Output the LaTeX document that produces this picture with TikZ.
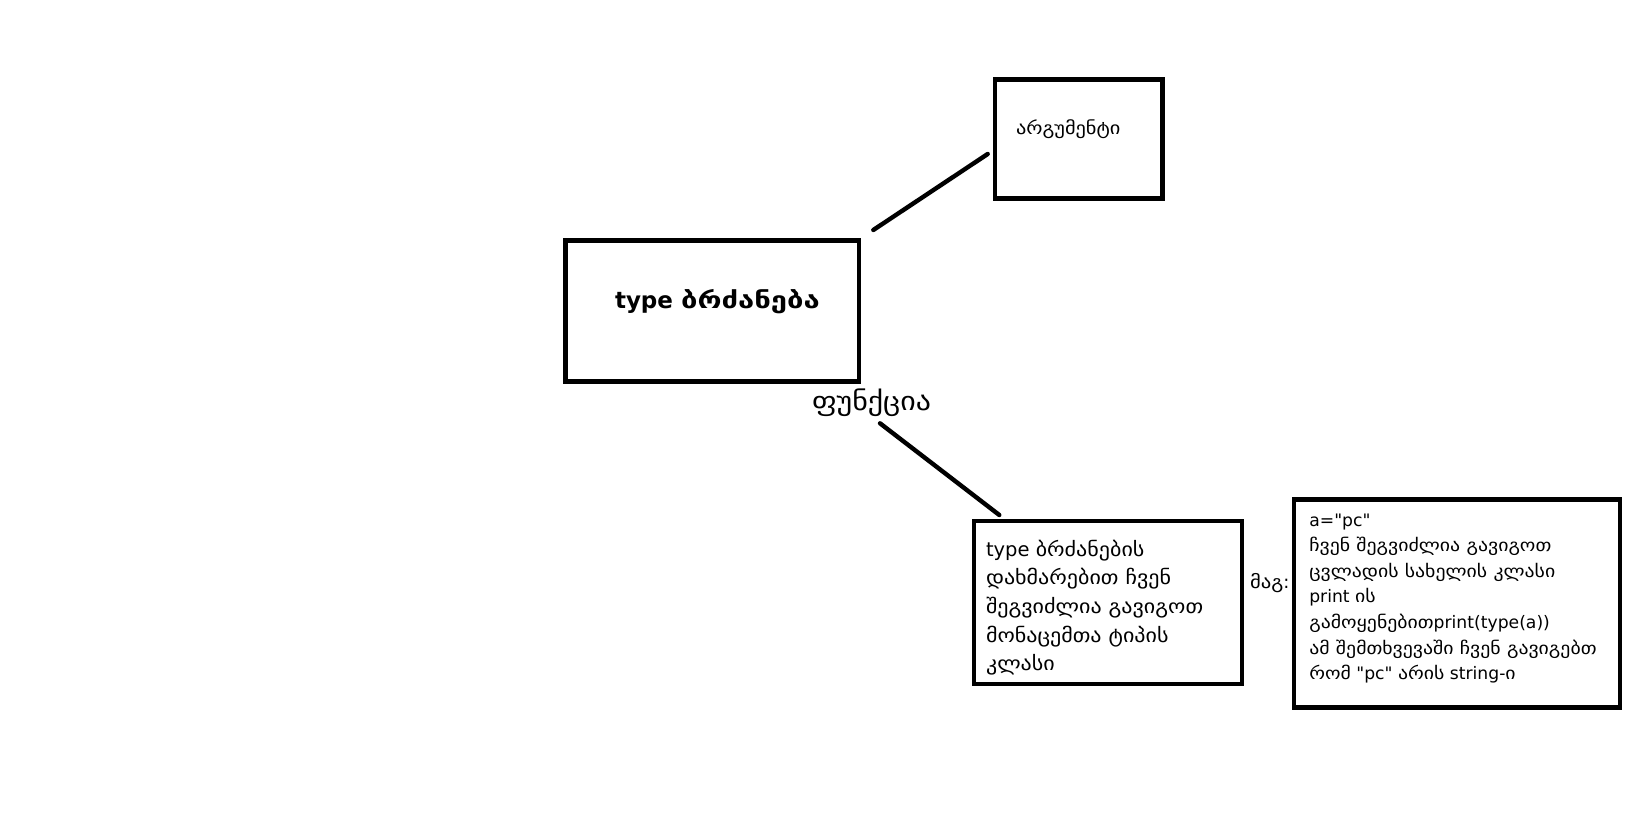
\documentclass[tikz,border=0pt]{standalone}
\usepackage{fontspec}
\setmainfont{DejaVu Sans}
\newfontfamily\lat{DejaVu Sans}
\newfontfamily\geo{DejaVu Sans}[FakeStretch=1.15]
\newfontfamily\geoi{DejaVu Sans}[FakeStretch=1.13]
\newfontfamily\geot{DejaVu Sans}[FakeStretch=1.27]
\begin{document}
\begin{tikzpicture}[x=1pt,y=-1pt,
  box/.style={draw=black, line width=4.6pt, inner sep=0pt, outer sep=0pt},
  conn/.style={draw=black, line width=4.4pt, line cap=round},
  txt/.style={inner sep=0pt, outer sep=0pt, text=black, anchor=base west}]
\useasboundingbox (0,0) rectangle (1627,818);
\fill[white] (0,0) rectangle (1627,818);
% boxes
\node[box, minimum width=293.5pt, minimum height=140.8pt] (typebox) at (712.25,310.9) {};
\node[box, minimum width=167.5pt, minimum height=118.5pt] (argbox) at (1078.75,139) {};
\node[box, minimum width=268pt, minimum height=163.2pt] (infobox) at (1108,602.4) {};
\node[box, minimum width=326pt, minimum height=207.8pt] (exbox) at (1457,603.6) {};
% texts
\node[txt, font=\lat\bfseries\fontsize{23}{27}\selectfont] (typetxt) at (615,308.5) {type {\geot\bfseries ბრძანება}};
\node[txt, font=\geo\fontsize{17.7}{21}\selectfont] (argtxt) at (1016,135) {არგუმენტი};
\node[txt, font=\geo\fontsize{26}{30}\selectfont] (funk) at (812,410) {ფუნქცია};
\node[txt, font=\geo\fontsize{18}{22}\selectfont] (mag) at (1250,588) {მაგ{\lat:}};
\node[txt, font=\lat\fontsize{19.5}{28.7}\selectfont] (infotxt) at (986,556) {\begin{tabular}[t]{@{}l@{}}type {\geoi ბრძანების}\\{\geoi დახმარებით ჩვენ}\\{\geoi შეგვიძლია გავიგოთ}\\{\geoi მონაცემთა ტიპის}\\{\geoi კლასი}\end{tabular}};
\node[txt, font=\lat\fontsize{17.2}{25.6}\selectfont] (extxt) at (1309.3,526) {\begin{tabular}[t]{@{}l@{}}a="pc"\\{\geo ჩვენ შეგვიძლია გავიგოთ}\\{\geo ცვლადის სახელის კლასი}\\print {\geo ის}\\{\geo გამოყენებით}print(type(a))\\{\geo ამ შემთხვევაში ჩვენ გავიგებთ}\\{\geo რომ} "pc" {\geo არის} string-{\geo ი}\end{tabular}};
% connectors
\coordinate (c1a) at (873.3,230);
\coordinate (c1b) at (987.7,154);
\coordinate (c2a) at (880,423.3);
\coordinate (c2b) at (999.3,515);
\draw[conn] (c1a) -- (c1b);
\draw[conn] (c2a) -- (c2b);
\end{tikzpicture}
\end{document}
